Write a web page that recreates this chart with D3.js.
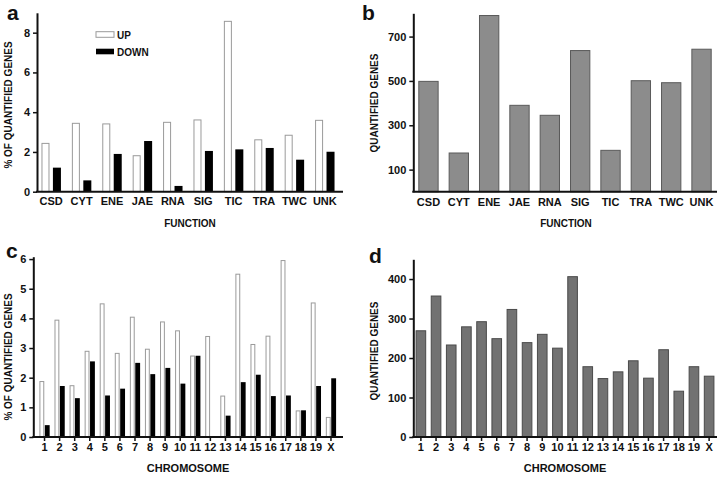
<!DOCTYPE html>
<html>
<head>
<meta charset="utf-8">
<script src="https://cdn.jsdelivr.net/npm/d3@7"></script>
<style>
  body { margin: 0; background: #fff; }
  svg { display: block; font-family: "Liberation Sans", Arial, sans-serif; }
  text { font-weight: bold; fill: #111; }
</style>
</head>
<body>
<svg id="chart" width="725" height="480"></svg>
<script>
// ---------- DATA ----------
const functions = ["CSD", "CYT", "ENE", "JAE", "RNA", "SIG", "TIC", "TRA", "TWC", "UNK"];
const seriesNames = ["UP", "DOWN"];
const funcUp =   [2.43, 3.44, 3.41, 1.81, 3.49, 3.61, 8.57, 2.61, 2.84, 3.59];
const funcDown = [1.21, 0.57, 1.90, 2.55, 0.29, 2.05, 2.13, 2.20, 1.61, 2.01];
const funcQuantified = [498, 175, 795, 390, 345, 637, 187, 501, 492, 643];

const chromosomes = ["1","2","3","4","5","6","7","8","9","10","11","12","13","14","15","16","17","18","19","X"];
const chromUp =   [1.87, 3.94, 1.73, 2.89, 4.49, 2.82, 4.04, 2.96, 3.88, 3.58, 2.73, 3.39, 1.38, 5.49, 3.12, 3.40, 5.95, 0.88, 4.52, 0.66];
const chromDown = [0.40, 1.72, 1.31, 2.55, 1.40, 1.63, 2.50, 2.12, 2.33, 1.80, 2.74, 0.00, 0.72, 1.85, 2.10, 1.38, 1.40, 0.90, 1.72, 1.98];
const chromQuantified = [269, 357, 233, 279, 292, 249, 323, 239, 260, 225, 406, 178, 148, 165, 193, 149, 221, 116, 178, 154];

const ticksA = [0, 2, 4, 6, 8];
const ticksB = [100, 300, 500, 700];
const ticksC = [0, 1, 2, 3, 4, 5, 6];
const ticksD = [0, 100, 200, 300, 400];

// ---------- DRAW ----------
const svg = d3.select("#chart");
const colUp = "#ffffff", colUpStroke = "#9a9a9a", colDown = "#000000";

function yAxis(g, y, ticks, x) {
  const a = g.append("g").attr("transform", `translate(${x},0)`)
    .call(d3.axisLeft(y).tickValues(ticks).tickFormat(d3.format("d")).tickSize(4).tickPadding(3).tickSizeOuter(0));
  a.select(".domain").attr("stroke", "#111").attr("stroke-width", 2);
  a.selectAll(".tick line").attr("stroke", "#111").attr("stroke-width", 1.5);
  a.selectAll(".tick text").attr("font-size", 11).attr("font-weight", "bold").attr("fill", "#111")
    .attr("font-family", "Liberation Sans, Arial, sans-serif");
  return a;
}

function xAxis(g, x, y0, x1line, x2line, tickLen) {
  g.append("line").attr("x1", x1line).attr("x2", x2line).attr("y1", y0).attr("y2", y0)
    .attr("stroke", "#111").attr("stroke-width", 2);
  const a = g.append("g").attr("transform", `translate(0,${y0})`)
    .call(d3.axisBottom(x).tickSize(tickLen).tickPadding(tickLen ? 2 : 6).tickSizeOuter(0));
  a.select(".domain").remove();
  a.selectAll(".tick line").attr("stroke", "#111").attr("stroke-width", 1.5);
  a.selectAll(".tick text").attr("font-size", 11).attr("font-weight", "bold").attr("fill", "#111")
    .attr("font-family", "Liberation Sans, Arial, sans-serif");
  return a;
}

function titles(letter, lx, ly, yTitle, ytx, yty, xTitle, xtx, xty, xSize) {
  svg.append("text").attr("x", lx).attr("y", ly).attr("font-size", 21).text(letter);
  svg.append("text").attr("transform", `translate(${ytx},${yty}) rotate(-90)`)
    .attr("text-anchor", "middle").attr("font-size", 10).text(yTitle);
  svg.append("text").attr("x", xtx).attr("y", xty).attr("text-anchor", "middle")
    .attr("font-size", xSize).text(xTitle);
}

function groupedPanel(cats, up, down, xr, pi, pi1, yDomain, yRange, ticks, axisLeftX, axisEnd, tickLen) {
  const g = svg.append("g");
  const x0 = d3.scaleBand().domain(cats).range(xr).paddingInner(pi).paddingOuter(pi / 2);
  const x1 = d3.scaleBand().domain(seriesNames).range([0, x0.bandwidth()]).paddingInner(pi1);
  const y = d3.scaleLinear().domain(yDomain).range(yRange);
  const rows = cats.map((c, i) => ({ c, vals: [{ s: "UP", v: up[i] }, { s: "DOWN", v: down[i] }] }));
  const grp = g.selectAll("g.grp").data(rows).join("g").attr("class", "grp")
    .attr("transform", d => `translate(${x0(d.c)},0)`);
  grp.selectAll("rect").data(d => d.vals.filter(e => e.v > 0)).join("rect")
    .attr("x", d => x1(d.s) + (d.s === "UP" ? 0.5 : 0))
    .attr("width", d => x1.bandwidth() - (d.s === "UP" ? 1 : 0))
    .attr("y", d => y(d.v))
    .attr("height", d => y(0) - y(d.v))
    .attr("fill", d => d.s === "UP" ? colUp : colDown)
    .attr("stroke", d => d.s === "UP" ? colUpStroke : "none")
    .attr("stroke-width", 1);
  yAxis(g, y, ticks, axisLeftX);
  xAxis(g, x0, yRange[0], axisLeftX - 1, axisEnd, tickLen);
  return { g, x0, y };
}

function singlePanel(cats, vals, xr, pi, yDomain, yRange, ticks, axisLeftX, axisEnd, tickLen, fill, stroke) {
  const g = svg.append("g");
  const x = d3.scaleBand().domain(cats).range(xr).paddingInner(pi).paddingOuter(pi / 2);
  const y = d3.scaleLinear().domain(yDomain).range(yRange);
  g.selectAll("rect").data(cats.map((c, i) => ({ c, v: vals[i] }))).join("rect")
    .attr("x", d => x(d.c) + 0.5).attr("width", x.bandwidth() - 1)
    .attr("y", d => y(d.v)).attr("height", d => y(0) - y(d.v))
    .attr("fill", fill).attr("stroke", stroke).attr("stroke-width", 1);
  yAxis(g, y, ticks, axisLeftX);
  xAxis(g, x, yRange[0], axisLeftX - 1, axisEnd, tickLen);
  return { g, x, y };
}

// Panel a
groupedPanel(functions, funcUp, funcDown, [36, 340], 0.36, 0.3, [0, 9], [191.7, 12.8], ticksA, 37, 343, 0);
// legend
const legend = svg.append("g");
seriesNames.forEach((s, i) => {
  const ly = 31.7 + i * 17;
  legend.append("rect").attr("x", 96).attr("y", ly).attr("width", 18).attr("height", 5.6)
    .attr("fill", s === "UP" ? colUp : colDown).attr("stroke", s === "UP" ? colUpStroke : "none");
  legend.append("text").attr("x", 117).attr("y", ly + 7).attr("font-size", 10).text(s);
});
titles("a", 7, 20, "% OF QUANTIFIED GENES", 12, 105, "FUNCTION", 190, 227, 10);

// Panel b
singlePanel(functions, funcQuantified, [413.3, 716.7], 0.33, [0, 805], [191.8, 13.3], ticksB, 413.3, 717, 0, "#8c8c8c", "#5a5a5a");
titles("b", 362, 20, "QUANTIFIED GENES", 378, 103, "FUNCTION", 566, 227, 10);

// Panel c
groupedPanel(chromosomes, chromUp, chromDown, [37, 338.5], 0.32, 0.1, [0, 6.08], [437, 256.7], ticksC, 33.3, 343, 4);
titles("c", 6, 258, "% OF QUANTIFIED GENES", 12, 357, "CHROMOSOME", 188, 472, 11);

// Panel d
singlePanel(chromosomes, chromQuantified, [413.3, 716.7], 0.3, [0, 450], [437, 259.3], ticksD, 413.3, 717, 4, "#727272", "#4a4a4a");
titles("d", 369, 263, "QUANTIFIED GENES", 378, 351, "CHROMOSOME", 565, 472, 11);
</script>
</body>
</html>
